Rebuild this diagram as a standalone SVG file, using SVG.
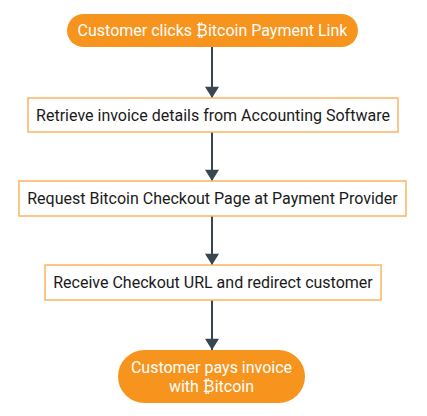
<svg xmlns="http://www.w3.org/2000/svg" width="427" height="416" viewBox="0 0 427 416">
<defs>
<style>
.pill{fill:#f7941d;stroke:none}
.box{fill:#ffffff;stroke:#fbb463;stroke-width:1.5}
.pt{font-family:Roboto,"Liberation Sans","DejaVu Sans",sans-serif;font-size:16px;fill:#ffffff;text-anchor:middle}
.bt{font-family:Roboto,"Liberation Sans","DejaVu Sans",sans-serif;font-size:16px;fill:#1a1a1a;text-anchor:middle}
.conn{stroke:#37474f;stroke-width:2;fill:none;marker-end:url(#ah)}
</style>
<marker id="ah" markerWidth="16" markerHeight="14" refX="13" refY="8" orient="auto" markerUnits="userSpaceOnUse" viewBox="0 0 14 16">
<path d="M0,0 L13,8 L0,16 Z" fill="#37474f"/>
</marker>
</defs>
<rect width="427" height="416" fill="#ffffff"/>
<g id="connectors">
<line class="conn" x1="212" y1="47" x2="212" y2="98"/>
<line class="conn" x1="212" y1="132" x2="212" y2="181"/>
<line class="conn" x1="212" y1="216" x2="212" y2="265"/>
<line class="conn" x1="212" y1="300" x2="212" y2="350"/>
</g>
<g id="n1">
<rect class="pill" x="67" y="14" width="291" height="33" rx="16.5"/>
<text class="pt" x="212.5" y="36">Customer clicks ₿itcoin Payment Link</text>
</g>
<g id="n2">
<rect class="box" x="28" y="98" width="370" height="34"/>
<text class="bt" x="213" y="120.5">Retrieve invoice details from Accounting Software</text>
</g>
<g id="n3">
<rect class="box" x="19" y="181" width="387" height="35"/>
<text class="bt" x="212.5" y="204">Request Bitcoin Checkout Page at Payment Provider</text>
</g>
<g id="n4">
<rect class="box" x="45" y="265" width="336" height="35"/>
<text class="bt" x="213" y="288">Receive Checkout URL and redirect customer</text>
</g>
<g id="n5">
<rect class="pill" x="118" y="350" width="187" height="53" rx="26.5"/>
<text class="pt" x="211.5" y="373">Customer pays invoice</text>
<text class="pt" x="211.5" y="392">with ₿itcoin</text>
</g>
</svg>
